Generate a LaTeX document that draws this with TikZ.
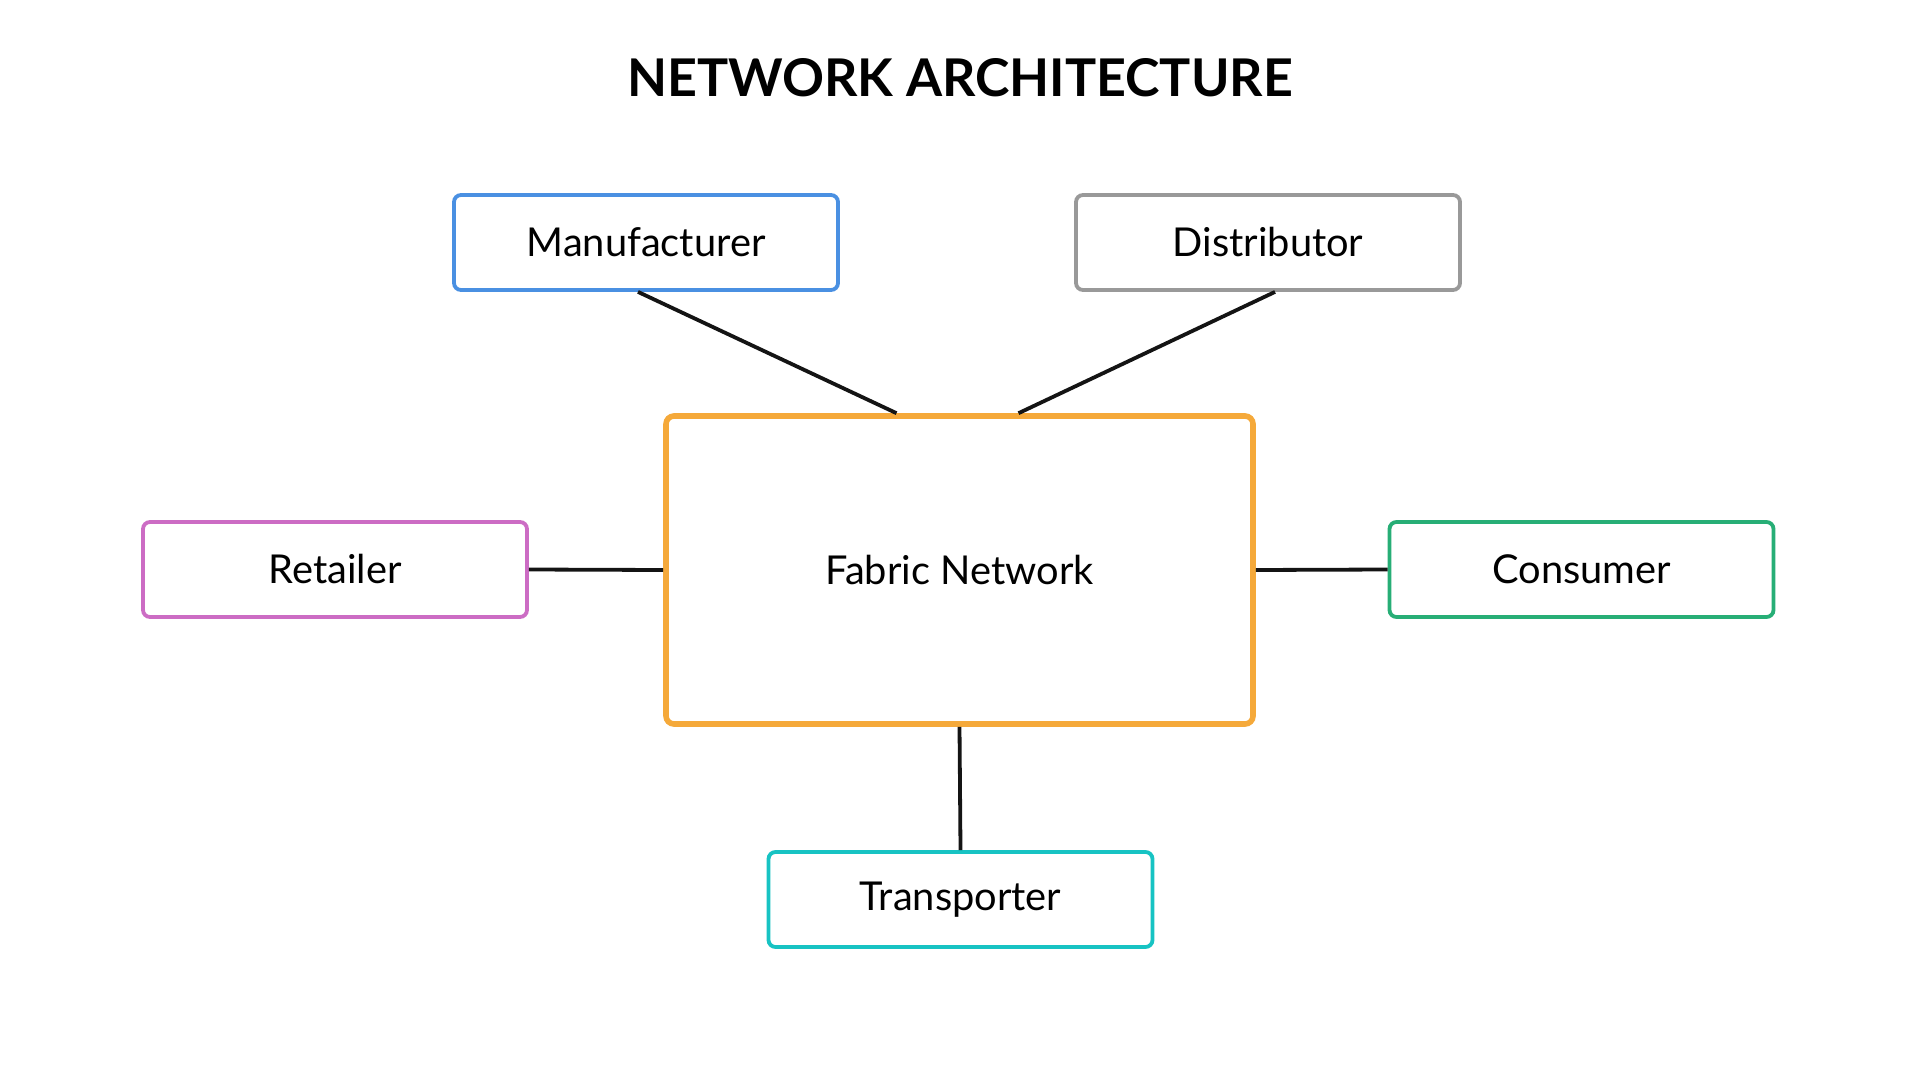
\documentclass[tikz,border=0pt]{standalone}
\usepackage{fontspec}
\setmainfont{Lato}
\usetikzlibrary{calc}
\definecolor{cblue}{HTML}{4A90E2}
\definecolor{cgray}{HTML}{999999}
\definecolor{corange}{HTML}{F5A93A}
\definecolor{cpink}{HTML}{CC6CC4}
\definecolor{cgreen}{HTML}{27AE76}
\definecolor{ccyan}{HTML}{17C3C3}
\tikzset{
  actor/.style={draw, rounded corners=3.5pt, line width=1.9pt, fill=white,
    minimum width=192pt, minimum height=47.5pt, inner sep=0pt,
    font=\fontsize{19.9}{23}\selectfont, text=black},
  hub/.style={draw=corange, rounded corners=4pt, line width=2.8pt, fill=white,
    minimum width=293.5pt, minimum height=154pt, inner sep=0pt,
    font=\fontsize{19.9}{23}\selectfont, text=black},
  link/.style={draw=black!92, line width=1.9pt},
  titlestyle/.style={font=\fontsize{26}{30}\selectfont\bfseries, text=black, inner sep=0pt}
}
\begin{document}
\begin{tikzpicture}[x=0.5pt, y=-0.5pt]
\useasboundingbox (0,0) rectangle (1920,1080);
\node[titlestyle] (title) at (960,78) {NETWORK ARCHITECTURE};
\node[hub] (F) at (959.5,570) {Fabric Network};
\node[actor, draw=cblue] (M) at (646,242.5) {Manufacturer};
\node[actor, draw=cgray] (D) at (1268,242.5) {Distributor};
\node[actor, draw=cpink] (R) at (335,569.5) {Retailer};
\node[actor, draw=cgreen] (C) at (1581.5,569.5) {Consumer};
\node[actor, draw=ccyan] (T) at (960.5,899.5) {Transporter};
\draw[link] ($(M.south)+(-8,0)$) -- ($(F.north)+(-63,0)$);
\draw[link] ($(D.south)+(7,0)$) -- ($(F.north)+(59,0)$);
\draw[link] (R.east) -- (F.west);
\draw[link] (F.east) -- (C.west);
\draw[link] (F.south) -- (T.north);
\end{tikzpicture}
\end{document}
